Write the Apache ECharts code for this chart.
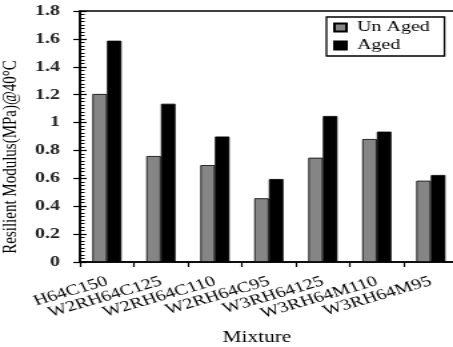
<!DOCTYPE html>
<html>
<head>
<meta charset="utf-8">
<script src="https://cdn.jsdelivr.net/npm/echarts@6/dist/echarts.min.js"></script>
<style>
html,body{margin:0;padding:0;background:#fff;overflow:hidden;}
#wrap{width:453px;height:347px;overflow:hidden;}
#chart{width:340px;height:347px;transform:scaleX(1.3324);transform-origin:0 0;}
</style>
</head>
<body>
<div id="wrap"><div id="chart"></div></div>
<script>
const categories = ['H64C150','W2RH64C125','W2RH64C110','W2RH64C95','W3RH64125','W3RH64M110','W3RH64M95'];
const unAged = [1.205, 0.76, 0.695, 0.457, 0.748, 0.882, 0.583];
const aged = [1.587, 1.135, 0.90, 0.595, 1.047, 0.935, 0.624];
const seriesNames = ['Un Aged', 'Aged'];
const yTitle = 'Resilient Modulus(MPa)@40°C';
const xTitle = 'Mixture';

const font = 'Liberation Serif';
const chart = echarts.init(document.getElementById('chart'), null, {renderer:'canvas'});
chart.setOption({
  animation:false,
  backgroundColor:'#fff',
  grid:{left:60, top:11, right:-3.6, bottom:85, show:true, borderColor:'#000', borderWidth:1.5, backgroundColor:'transparent', containLabel:false, outerBoundsMode:'none'},
  legend:{
    orient:'vertical', left:245, top:17,
    padding:[3,11,3,5], itemGap:3,
    borderColor:'#000', borderWidth:1.3, backgroundColor:'#fff',
    itemWidth:9, itemHeight:8, icon:'rect',
    textStyle:{fontFamily:font, fontSize:15, color:'#000', padding:[0,0,0,3]},
    data:seriesNames
  },
  xAxis:{
    type:'category', data:categories,
    axisLine:{lineStyle:{color:'#000', width:1.5}},
    axisTick:{show:true, length:5, lineStyle:{color:'#000', width:1.2}},
    axisLabel:{rotate:21, margin:19, fontFamily:font, fontSize:15, color:'#000', interval:0},
    name:xTitle, nameLocation:'middle', nameGap:68,
    nameTextStyle:{fontFamily:font, fontSize:16, color:'#000', padding:[0,18,0,0]}
  },
  yAxis:[{
    type:'value', min:0, max:1.8, interval:0.2,
    axisLine:{show:true, lineStyle:{color:'#000', width:1.5}},
    axisTick:{show:true, inside:true, length:5, lineStyle:{color:'#000', width:1.2}},
    minorTick:{show:true, splitNumber:8, length:3.5, lineStyle:{color:'#000', width:1}},
    splitLine:{show:false},
    axisLabel:{margin:15, fontFamily:font, fontSize:15, fontWeight:'bold', color:'#222'},
    name:yTitle, nameLocation:'middle', nameGap:40, nameRotate:90,
    nameTextStyle:{fontFamily:font, fontSize:15, color:'#000', padding:[0,41,0,0]}
  },{
    type:'value', min:0, max:1.8, interval:0.2, position:'left',
    axisLine:{show:false},
    axisTick:{show:true, inside:false, length:5, lineStyle:{color:'#000', width:1.2}},
    axisLabel:{show:false}, splitLine:{show:false}
  }],
  series:[{
    name:seriesNames[0], type:'bar', data:unAged, yAxisIndex:0,
    barGap:'0%', barCategoryGap:'46%',
    itemStyle:{color:'#858585', borderColor:'#000', borderWidth:0.8}
  },{
    name:seriesNames[1], type:'bar', data:aged, yAxisIndex:0,
    barGap:'0%', barCategoryGap:'46%',
    itemStyle:{color:'#000', borderColor:'#000', borderWidth:0.8}
  }]
});
</script>
</body>
</html>
